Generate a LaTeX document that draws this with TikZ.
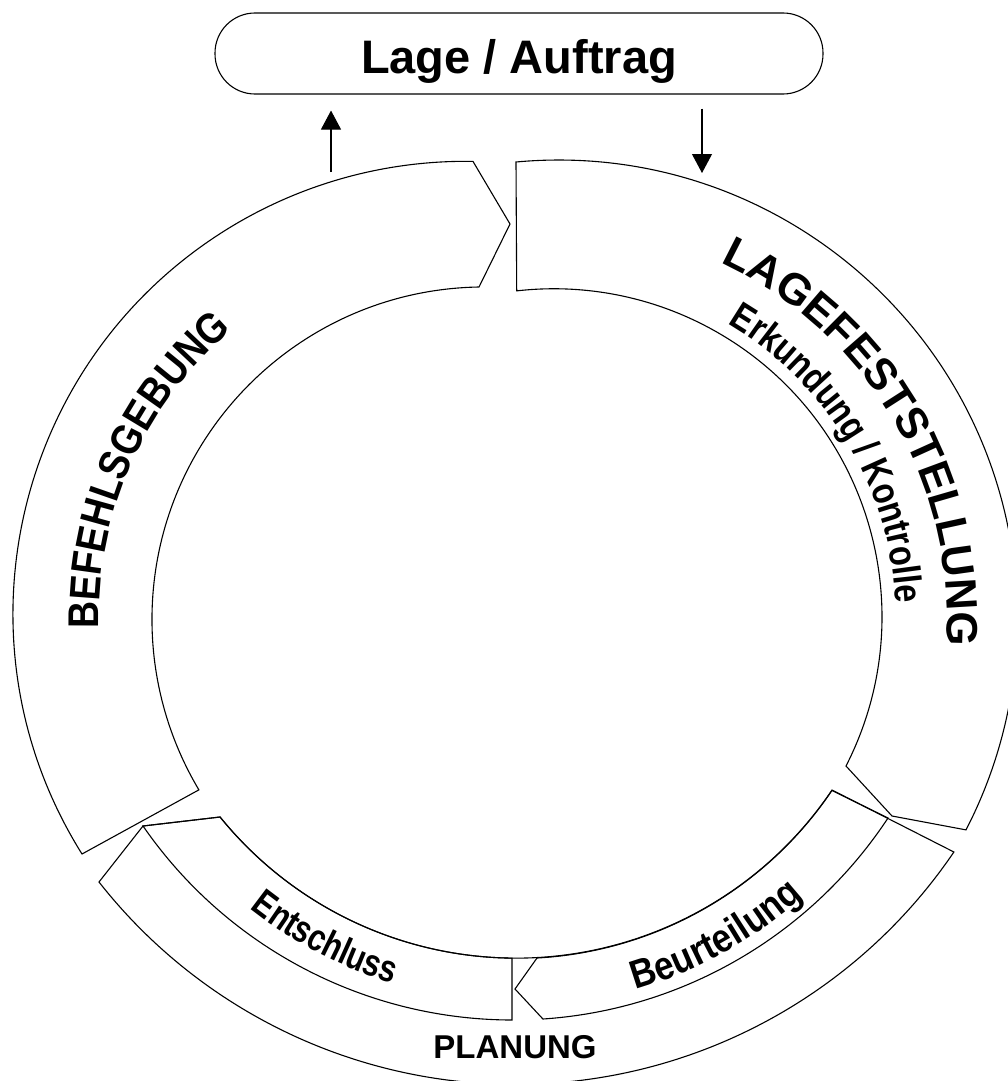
\documentclass[tikz,border=0pt]{standalone}
\usepackage{fontspec}
\setmainfont{Liberation Sans}
\newfontfamily\befehlfont{Liberation Sans}[FakeStretch=0.87]
\newfontfamily\erkundfont{Liberation Sans}[FakeStretch=0.83]
\newfontfamily\entschlussfont{Liberation Sans}[FakeStretch=0.80]
\newfontfamily\beurteilfont{Liberation Sans}[FakeStretch=0.87]
\usetikzlibrary{arrows.meta,decorations.text}

\newcommand\befehlstyle{\befehlfont\bfseries\fontsize{43}{43}\selectfont}
\newcommand\lagestyle{\bfseries\fontsize{44}{44}\selectfont}
\newcommand\erkundstyle{\erkundfont\bfseries\fontsize{39}{39}\selectfont}
\newcommand\entschlussstyle{\entschlussfont\bfseries\fontsize{38}{38}\selectfont}
\newcommand\beurteilstyle{\beurteilfont\bfseries\fontsize{40}{40}\selectfont}

\begin{document}
\begin{tikzpicture}[x=1pt,y=-1pt,
    ring/.style={draw, line width=1.1pt},
    flow/.style={line width=1.1pt, -{Triangle[length=19pt,width=20pt]}},
    arclabel/.style={decorate, decoration={text along path, text align=center, text={#1}}}]
    \useasboundingbox (0,0) rectangle (1008,1081);

    % centres of the arcs
    \coordinate (cB) at (475,617);
    \coordinate (cL) at (555,618);
    \coordinate (cP) at (515,574);

    \node[draw, line width=1.1pt, rounded corners=40pt, minimum width=608pt, minimum height=81pt,
          text height=40pt, text depth=0pt, font=\bfseries\fontsize{47}{47}\selectfont]
          (lage) at (519,53.5) {Lage / Auftrag};

    % Planung with Entschluss and Beurteilung
    \draw[ring] (99,882) arc[start angle=141.84, end angle=34.14, radius=529.7] -- (832,790)
        arc[start angle=33.96, end angle=140.99, radius=380.9] -- (143,826) -- cycle;
    \draw[ring] (220,817) arc[start angle=140.99, end angle=90.6, radius=380.9] -- (512,1020)
        arc[start angle=90.1, end angle=145.37, radius=449.4] -- cycle;
    \draw[ring] (515,989) -- (537,958) arc[start angle=86.84, end angle=33.96, radius=380.9] -- (888,818)
        arc[start angle=33.40, end angle=86.16, radius=449.4] -- cycle;
    % Befehlsgebung
    \draw[ring] (82,854) arc[start angle=-212.06, end angle=-89.05, radius=452.5] -- (510,224) -- (479,287)
        arc[start angle=-90.96, end angle=-210.8, radius=332.6] -- cycle;
    % Lagefeststellung
    \draw[ring] (516,162) arc[start angle=-95.29, end angle=27.35, radius=459] -- (892,816) -- (846,766)
        arc[start angle=27.07, end angle=-96.52, radius=328] -- cycle;

    \path[arclabel={|\befehlstyle|BEFEHLSGEBUNG}] ([shift={(154:376)}]cB) arc[start angle=154, end angle=254, radius=376];
    \path[arclabel={|\lagestyle|LAGEFESTSTELLUNG}] ([shift={(-80.5:392)}]cL) arc[start angle=-80.5, end angle=19.5, radius=392];
    \path[arclabel={|\erkundstyle|Erkundung / Kontrolle}] ([shift={(-81:341)}]cL) arc[start angle=-81, end angle=19, radius=341];
    \path[arclabel={|\entschlussstyle|Entschluss}] ([shift={(147.5:427)}]cP) arc[start angle=147.5, end angle=87.5, radius=427];
    \path[arclabel={|\beurteilstyle|Beurteilung}] ([shift={(91:433)}]cP) arc[start angle=91, end angle=31, radius=433];
    \node[font=\bfseries\fontsize{33}{33}\selectfont] (planung) at (515,1047) {PLANUNG};

    \coordinate (fromB) at (331,172);
    \coordinate (toL) at (702,173);
    \draw[flow, shorten >=16pt] (fromB) -- (fromB |- lage.south);
    \draw[flow, shorten <=14pt] (toL |- lage.south) -- (toL);
    % \draw[red] (cB) circle (3); \draw[red] (cL) circle (3); \draw[red] (cP) circle (3);
\end{tikzpicture}
\end{document}
